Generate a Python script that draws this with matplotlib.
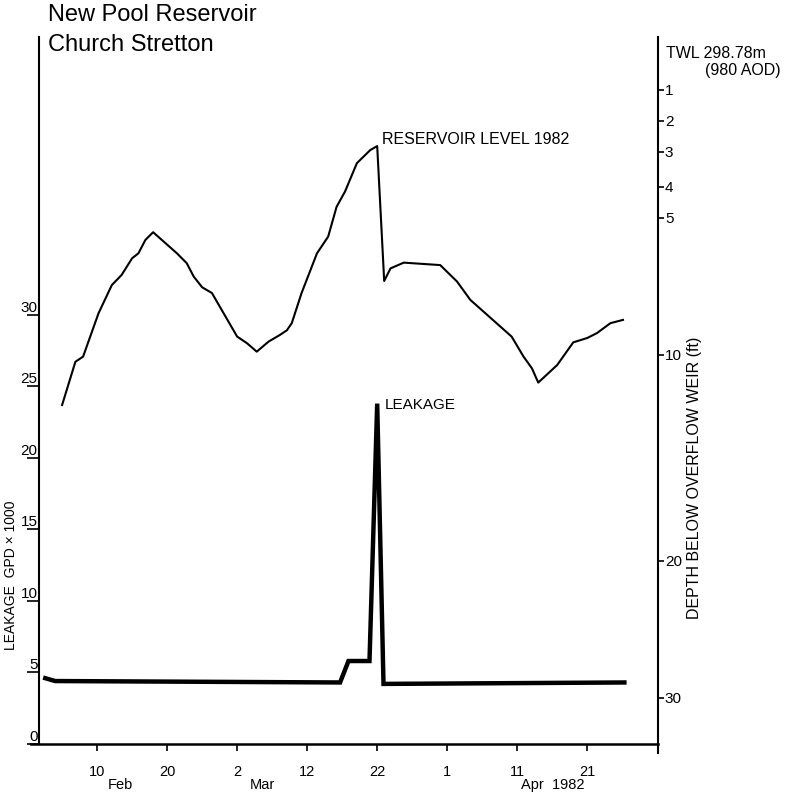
import numpy as np
import matplotlib
matplotlib.use("Agg")
import matplotlib.pyplot as plt
from matplotlib.ticker import FixedLocator

plt.rcParams['font.family'] = ['Liberation Sans', 'DejaVu Sans']

# reservoir level 1982: day of year vs depth below overflow weir (ft)
level_day = [36.0, 37.9, 39.0, 41.2, 43.1, 44.5, 46.0, 46.9, 47.9, 49.0,
             50.5, 52.4, 53.8, 54.8, 56.0, 57.4, 58.8, 61.0, 62.4, 63.8,
             65.5, 67.1, 68.1, 68.8, 70.2, 72.4, 74.0, 75.2, 76.4, 78.1,
             80.0, 81.0, 82.0, 82.9, 84.8, 90.0, 92.4, 94.3, 100.2, 101.9,
             103.1, 104.0, 106.7, 109.0, 111.0, 112.4, 114.3, 116.1]
level_depth = [12.43, 10.33, 10.08, 8.48, 7.45, 7.08, 6.47, 6.29, 5.80, 5.52,
               5.86, 6.29, 6.65, 7.14, 7.53, 7.74, 8.36, 9.33, 9.57, 9.88,
               9.51, 9.27, 9.10, 8.84, 7.74, 6.29, 5.68, 4.64, 4.15, 3.32,
               2.94, 2.81, 7.30, 6.84, 6.63, 6.72, 7.32, 7.99, 9.33, 10.08,
               10.65, 11.34, 10.49, 9.54, 9.38, 9.20, 8.84, 8.72]

# leakage, gallons per day x 1000
leak_day = [33.6, 35.0, 75.7, 76.9, 79.9, 81.0, 81.9, 116.3]
leak_gpd = [4.6, 4.4, 4.3, 5.8, 5.8, 23.8, 4.2, 4.3]

xtick_days = [41, 51, 61, 71, 81, 91, 101, 111]
xtick_labels = ['10', '20', '2', '12', '22', '1', '11', '21']
left_ticks = [0, 5, 10, 15, 20, 25, 30]
right_ticks = [1, 2, 3, 4, 5, 10, 20, 30]

# the depth scale on the original is not uniform
depth_knots = [-2, 0, 1, 2, 3, 4, 5, 10, 20, 30, 40]
pos_knots = [0, 60, 90, 121, 152, 187, 218, 355, 561, 698, 835]


def fwd(d):
    return np.interp(d, depth_knots, pos_knots)


def inv(p):
    return np.interp(p, pos_knots, depth_knots)


fig = plt.figure(figsize=(7.94, 7.95), dpi=100)
ax = fig.add_axes([0.0491, 0.0642, 0.7796, 0.8893])
ax2 = ax.twinx()

ax.plot(leak_day, leak_gpd, color='black', lw=3.2, solid_joinstyle='miter')
ax2.plot(level_day, level_depth, color='black', lw=1.5)

ax.set_xlim(32.7, 121.1)
ax.set_ylim(0, 49.44)
ax2.set_yscale('function', functions=(fwd, inv))
ax2.set_ylim(inv(744), inv(37))

for s in ['top', 'right']:
    ax.spines[s].set_visible(False)
for s in ['top', 'left', 'bottom']:
    ax2.spines[s].set_visible(False)
ax.spines['left'].set_linewidth(1.5)
ax.spines['bottom'].set_linewidth(1.8)
ax.spines['bottom'].set_bounds(31.5, 121.1)
ax2.spines['right'].set_linewidth(1.5)
ax2.spines['right'].set_bounds(34.0, inv(37))

ax.set_xticks(xtick_days)
ax.set_xticklabels(xtick_labels)
ax.tick_params(axis='x', direction='out', length=5, width=1.2, pad=10, labelsize=10.5)

ax.set_yticks(left_ticks)
ax.set_yticklabels([str(v) for v in left_ticks])
ax.tick_params(axis='y', direction='out', length=9, width=1.2, pad=-8, labelsize=11)
plt.setp(ax.get_yticklabels(), va='bottom')

ax2.yaxis.set_major_locator(FixedLocator(right_ticks))
ax2.set_yticklabels([str(v) for v in right_ticks])
ax2.tick_params(axis='y', direction='out', length=4, width=1.2, pad=1, labelsize=11)

for day, txt, ha in [(44.3, 'Feb', 'center'), (64.6, 'Mar', 'center'), (101.6, 'Apr  1982', 'left')]:
    ax.text(day, -0.058, txt, transform=ax.get_xaxis_transform(), ha=ha, va='center', fontsize=10.5)

ax.text(82.1, 23.7, 'LEAKAGE', ha='left', va='center', fontsize=11)
ax2.text(81.7, 2.6, 'RESERVOIR LEVEL 1982', ha='left', va='center', fontsize=11.5)

fig.text(48 / 794, 1 - 15 / 795, 'New Pool Reservoir', fontsize=17, va='center')
fig.text(48 / 794, 1 - 45 / 795, 'Church Stretton', fontsize=17, va='center')
fig.text(666 / 794, 1 - 53 / 795, 'TWL 298.78m', fontsize=11.5, va='center')
fig.text(705 / 794, 1 - 70 / 795, '(980 AOD)', fontsize=11.5, va='center')
fig.text(694 / 794, 1 - 478 / 795, 'DEPTH BELOW OVERFLOW WEIR (ft)', rotation=90,
         ha='center', va='center', fontsize=11.5)
fig.text(11 / 794, 1 - 575 / 795, 'LEAKAGE  GPD × 1000', rotation=90,
         ha='center', va='center', fontsize=10)

fig.savefig('out.png', dpi=100)
